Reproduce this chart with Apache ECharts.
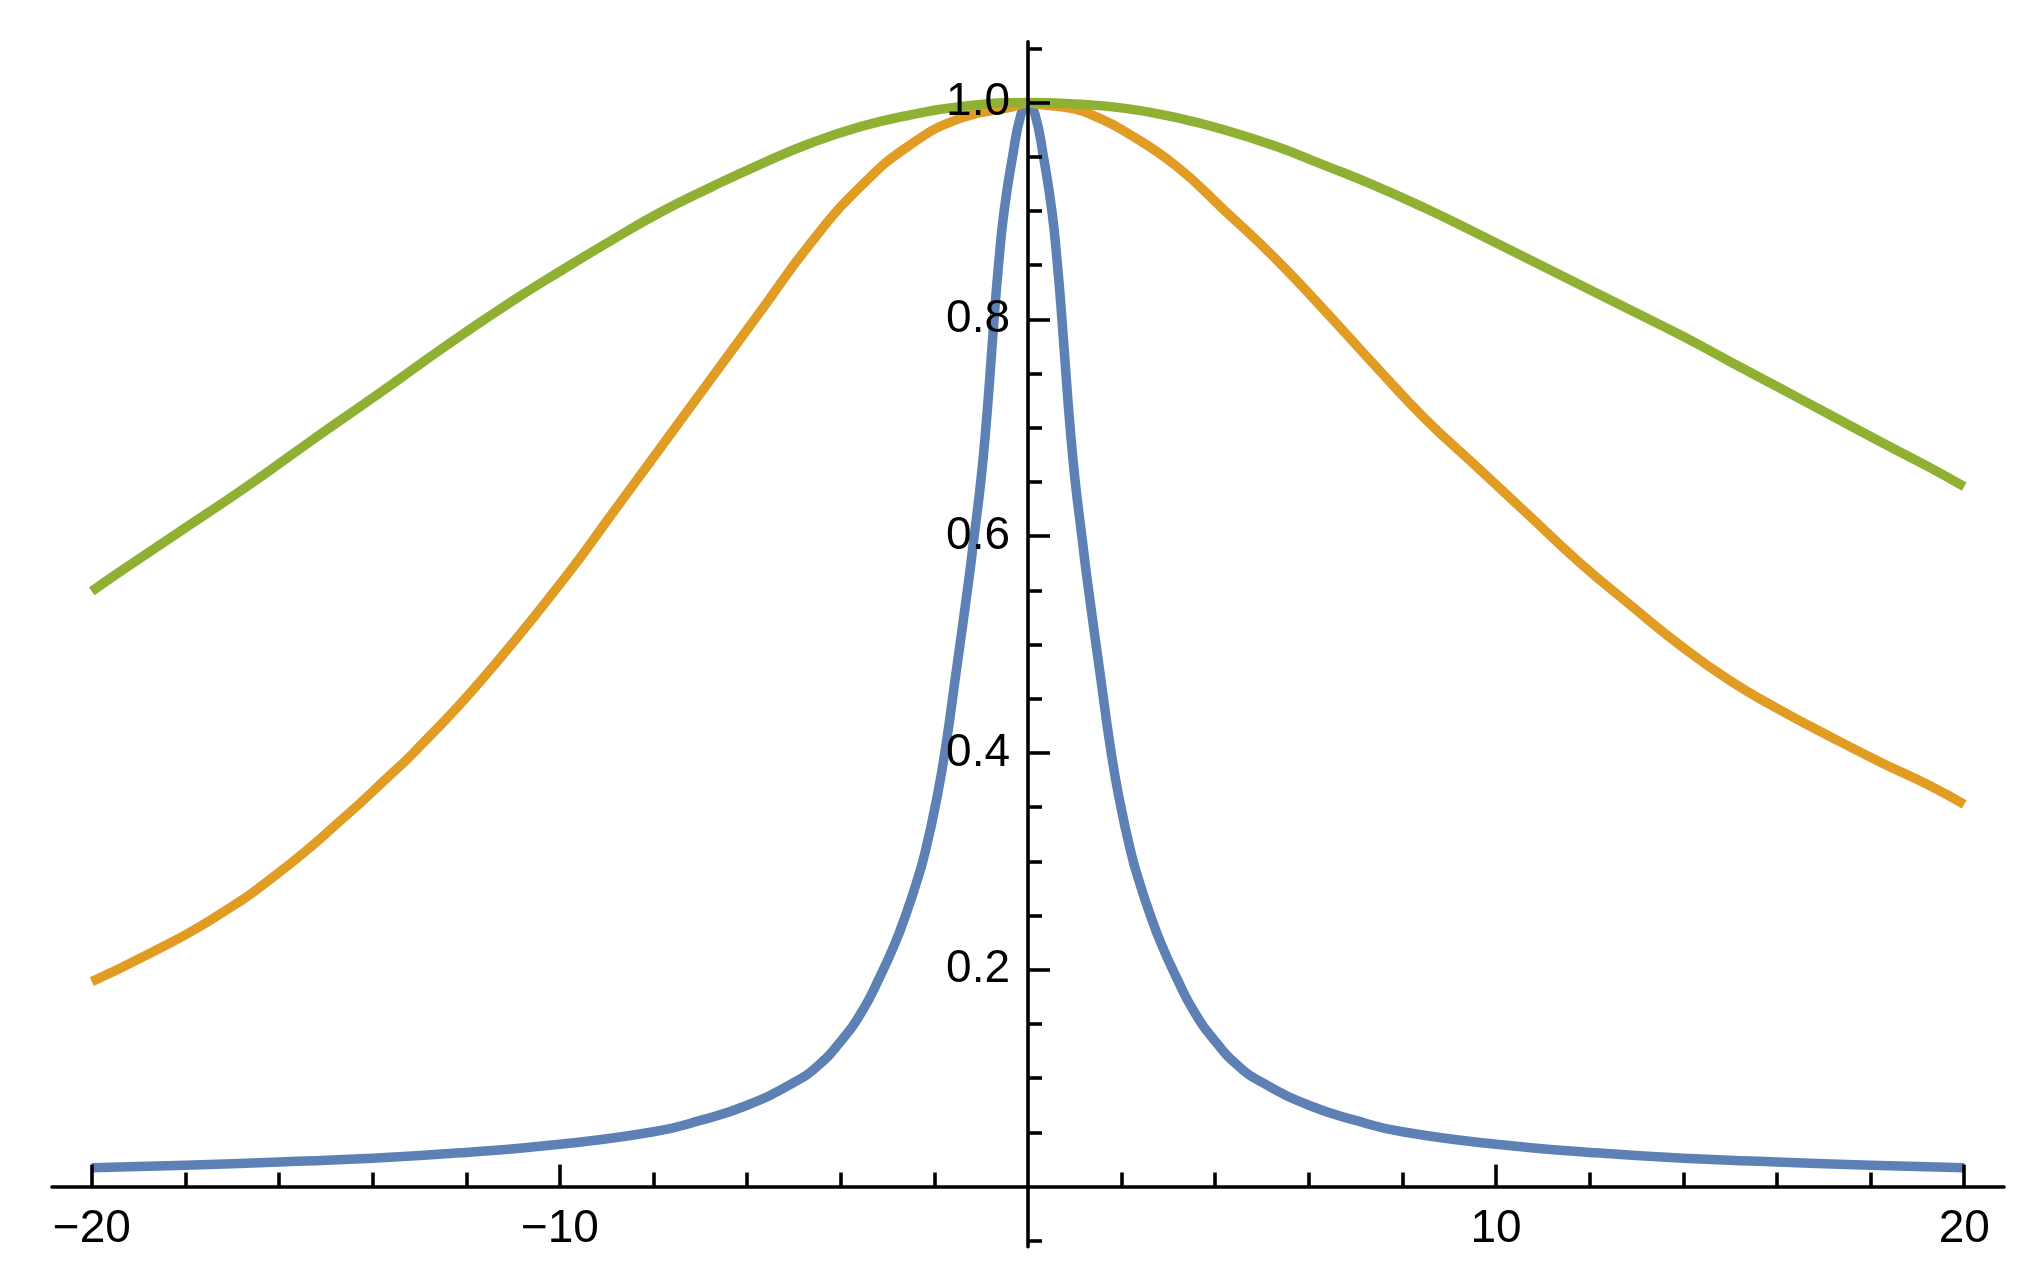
<!DOCTYPE html>
<html>
<head>
<meta charset="utf-8">
<script src="https://cdn.jsdelivr.net/npm/echarts@6/dist/echarts.min.js"></script>
<style>
html,body{margin:0;padding:0;background:#ffffff;}
#chart{width:2044px;height:1286px;}
</style>
</head>
<body>
<div id="chart"></div>
<script>
// ---- data ----
const blueX = [-20,-18,-16,-14,-12,-10,-8,-7,-6,-5,-4.5,-4,-3.54,-3.18,-2.84,-2.6,-2.4,-2.2,-1.93,-1.75,-1.55,-1.27,-1.15,-1.01,-0.9,-0.81,-0.725,-0.63,-0.51,-0.33,-0.15,0,
               0.15,0.33,0.51,0.63,0.725,0.81,0.9,1.01,1.15,1.27,1.55,1.75,1.93,2.2,2.4,2.6,2.84,3.18,3.54,4,4.5,5,6,7,8,10,12,14,16,18,20];
const blueY = [0.0173,0.0196,0.0227,0.026,0.0315,0.039,0.0505,0.061,0.075,0.096,0.111,0.134,0.162,0.192,0.2244,0.252,0.278,0.308,0.362,0.408,0.470,0.558,0.600,0.650,0.700,0.750,0.800,0.850,0.900,0.950,0.989,1.000,
               0.989,0.950,0.900,0.850,0.800,0.750,0.700,0.650,0.600,0.558,0.470,0.408,0.362,0.308,0.278,0.252,0.2244,0.192,0.162,0.134,0.111,0.096,0.075,0.061,0.0505,0.039,0.0315,0.026,0.0227,0.0196,0.0173];

const orangeX = [-20,-18.83,-17.4,-15.98,-14.55,-13.7,-13.13,-11.7,-9.85,-8.93,-7.86,-6.79,-5.72,-4.65,-3.58,-2.52,-1.45,-0.38,0,
                 0.3,1.01,1.5,2.08,3.15,4.21,5.28,6.35,7.42,8.49,9.66,10.73,11.8,12.87,13.94,15,16.07,17.14,18.21,19.28,20];
const orangeY = [0.189,0.2136,0.2475,0.2904,0.3427,0.3766,0.400,0.466,0.564,0.618,0.681,0.744,0.807,0.870,0.9223,0.9608,0.9854,0.9956,0.9995,
                 0.998,0.9938,0.986,0.973,0.942,0.900,0.8563,0.8075,0.757,0.708,0.661,0.618,0.575,0.5364,0.499,0.4665,0.4395,0.415,0.3915,0.3695,0.3525];

const greenX = [-20,-19.54,-18.11,-16.69,-15.27,-13.84,-12.42,-10.99,-9.99,-8.93,-7.86,-6.79,-5.72,-4.65,-3.58,-2.52,-1.45,0,
                1.01,2.08,3.15,4.21,5.28,6.35,7.42,8.49,9.66,10.73,11.8,12.87,13.94,15,16.07,17.14,18.21,19.28,20];
const greenY = [0.549,0.563,0.6045,0.6456,0.6893,0.7323,0.776,0.8175,0.8445,0.872,0.8985,0.9215,0.943,0.9624,0.9777,0.9885,0.9961,1.0,
                0.9986,0.9946,0.9862,0.9746,0.9598,0.9418,0.9232,0.9024,0.8778,0.8547,0.8316,0.8086,0.7855,0.7609,0.7364,0.7117,0.687,0.663,0.6456];

// ---- axes / ticks ----
const xMin = -20.85, xMax = 20.85;
const yMin = -0.0555, yMax = 1.0561;
const xLabelValues = [-20,-10,10,20];
const xMajorTicks = [-20,-10,10,20];
const xMinorTicks = [-18,-16,-14,-12,-8,-6,-4,-2,2,4,6,8,12,14,16,18];
const yLabelValues = [0.2,0.4,0.6,0.8,1.0];
const yMajorTicks = [0.2,0.4,0.6,0.8,1.0];
const yMinorTicks = [-0.05,0.05,0.1,0.15,0.25,0.3,0.35,0.45,0.5,0.55,0.65,0.7,0.75,0.85,0.9,0.95,1.05];

const seriesColors = ['#5E81B5','#E19C24','#8FB032'];

function zip(xs, ys){ return xs.map((x,i)=>[x, ys[i]]); }

const W = 2044, H = 1286;
const G = {left:52, right:40, top:41.7, bottom:39.3};
const gridW = W - G.left - G.right;
const gridH = H - G.top - G.bottom;
// distance of the zero lines from the grid edges (axes cross at the origin)
const zeroFromLeft = (0 - xMin) / (xMax - xMin) * gridW;
const zeroFromBottom = (0 - yMin) / (yMax - yMin) * gridH;

const FONT = "'Liberation Sans', Arial, Helvetica, sans-serif";
const AXIS_W = 3.6;
const LINE_W = 9.5;

const chart = echarts.init(document.getElementById('chart'), null, {renderer:'canvas'});

function lineSeries(name, data, color){
  return {
    name, type:'line', data, xAxisIndex:0, yAxisIndex:0, z:2,
    showSymbol:false, symbol:'none', smooth:0.5,
    lineStyle:{color, width:LINE_W, cap:'butt', join:'round'},
    emphasis:{disabled:true}, silent:true
  };
}

const option = {
  animation:false,
  backgroundColor:'#ffffff',
  grid:{left:G.left, right:G.right, top:G.top, bottom:G.bottom, containLabel:false, outerBoundsMode:'none'},
  xAxis:[
    {
      type:'value', min:xMin, max:xMax, position:'bottom', offset:-zeroFromBottom, z:5,
      axisLine:{show:true, onZero:false, lineStyle:{color:'#000', width:AXIS_W}},
      axisTick:{show:true, inside:true, length:22, customValues:xMajorTicks, lineStyle:{color:'#000', width:AXIS_W}},
      axisLabel:{show:true, customValues:xLabelValues, margin:20, fontSize:46, fontFamily:FONT, color:'#000',
        formatter:v => (v<0 ? '\u2212'+Math.abs(v) : String(v))},
      splitLine:{show:false}, minorTick:{show:false}
    },
    {
      type:'value', min:xMin, max:xMax, position:'top', offset:-(gridH - zeroFromBottom), z:5,
      axisLine:{show:false, onZero:false},
      axisTick:{show:true, inside:false, length:14, customValues:xMinorTicks, lineStyle:{color:'#000', width:AXIS_W}},
      axisLabel:{show:false}, splitLine:{show:false}
    }
  ],
  yAxis:[
    {
      type:'value', min:yMin, max:yMax, position:'left', offset:-zeroFromLeft, z:5,
      axisLine:{show:true, onZero:false, lineStyle:{color:'#000', width:AXIS_W}},
      axisTick:{show:true, inside:true, length:22, customValues:yMajorTicks, lineStyle:{color:'#000', width:AXIS_W}},
      axisLabel:{show:true, customValues:yLabelValues, margin:18, fontSize:46, fontFamily:FONT, color:'#000',
        formatter:v => Number(v).toFixed(1)},
      splitLine:{show:false}, minorTick:{show:false}
    },
    {
      type:'value', min:yMin, max:yMax, position:'right', offset:-(gridW - zeroFromLeft), z:5,
      axisLine:{show:false, onZero:false},
      axisTick:{show:true, inside:false, length:14, customValues:yMinorTicks, lineStyle:{color:'#000', width:AXIS_W}},
      axisLabel:{show:false}, splitLine:{show:false}
    }
  ],
  series:[
    lineSeries('blue', zip(blueX, blueY), seriesColors[0]),
    lineSeries('orange', zip(orangeX, orangeY), seriesColors[1]),
    lineSeries('green', zip(greenX, greenY), seriesColors[2])
  ]
};
chart.setOption(option);
</script>
</body>
</html>
